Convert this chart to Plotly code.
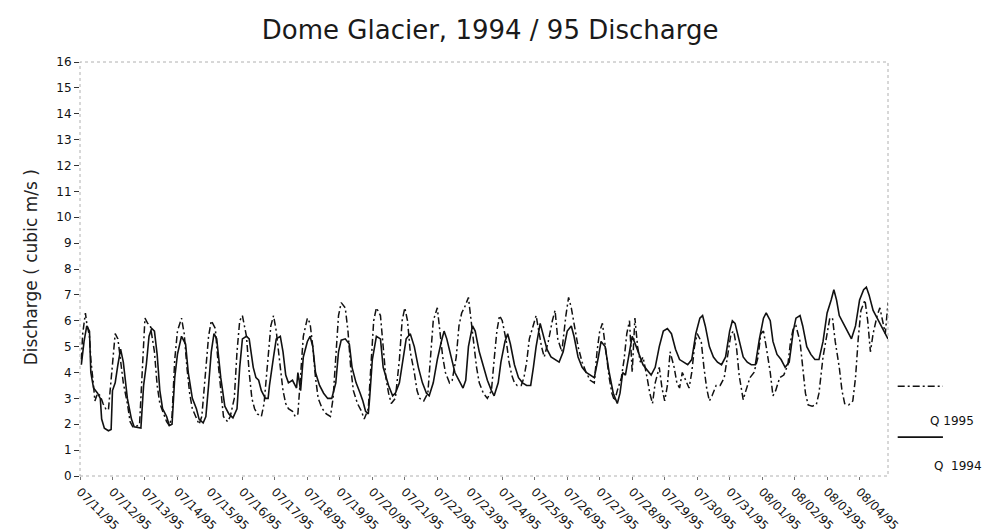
import pandas as pd
import plotly.graph_objects as go

START = pd.Timestamp("1995-07-11 00:00")

# ---- Q 1994 (solid) : hours since 07/11 00:00 and discharge (m3/s)
hours_1994 = [
    1, 3, 5, 7, 8, 10, 13, 15, 16, 18,
    21, 23, 24, 26, 28, 30, 32, 35, 38, 40,
    45, 47, 49, 51, 53, 55, 57, 59, 61, 64,
    66, 68, 70, 72, 75, 78, 80, 83, 86, 88,
    91, 93, 95, 97, 99, 101, 104, 107, 110, 113,
    116, 118, 120, 123, 125, 128, 130, 132, 134, 137,
    139, 140, 143, 145, 148, 150, 152, 154, 157, 160,
    161, 163, 165, 168, 170, 172, 174, 177, 180, 183,
    186, 189, 191, 193, 196, 199, 201, 204, 207, 209,
    211, 213, 214, 216, 219, 222, 224, 228, 231, 233,
    236, 239, 241, 244, 247, 250, 253, 256, 258, 261,
    264, 267, 269, 271, 274, 277, 280, 283, 285, 287,
    290, 292, 295, 298, 301, 304, 306, 309, 311, 314,
    316, 318, 321, 324, 327, 330, 333, 335, 337, 340,
    342, 345, 348, 351, 354, 357, 360, 363, 365, 368,
    371, 374, 377, 380, 383, 385, 388, 391, 394, 397,
    399, 401, 403, 405, 408, 411, 414, 416, 419, 422,
    425, 428, 431, 434, 437, 440, 443, 446, 449, 452,
    455, 458, 460, 462, 465, 468, 471, 474, 477, 480,
    482, 484, 487, 490, 493, 496, 499, 502, 505, 507,
    510, 512, 515, 518, 521, 524, 527, 529, 532, 534,
    537, 540, 543, 546, 549, 552, 555, 557, 559, 561,
    564, 567, 570, 573, 576, 579, 581, 583, 586, 589,
    592, 595, 597,
]
q_1994 = [
    4.3, 5.2, 5.8, 5.6, 4.0, 3.4, 3.2, 3.0, 2.2, 1.85,
    1.75, 1.8, 3.3, 3.6, 4.3, 4.9, 4.4, 3.0, 2.2, 1.9,
    1.85, 3.5, 4.3, 5.4, 5.7, 5.6, 4.7, 3.3, 2.6, 2.3,
    1.95, 2.0, 3.8, 4.7, 5.4, 5.1, 4.0, 3.0, 2.6, 2.2,
    2.05, 2.3, 3.5, 4.8, 5.5, 5.3, 3.8, 2.7, 2.4, 2.25,
    2.6, 4.2, 5.3, 5.4, 5.3, 4.2, 3.8, 3.7, 3.3, 3.0,
    3.0, 3.5, 4.6, 5.3, 5.4, 4.8, 3.9, 3.6, 3.7, 3.4,
    4.0, 3.3, 4.6, 5.2, 5.4, 5.0, 4.0, 3.5, 3.2, 3.0,
    3.0, 3.6, 4.8, 5.25, 5.3, 5.1, 4.2, 3.6, 3.2, 2.9,
    2.5, 2.4, 3.0, 4.5, 5.4, 5.3, 4.2, 3.5, 3.1, 3.2,
    3.6, 4.6, 5.3, 5.5, 5.0, 4.2, 3.6, 3.2, 3.1, 3.6,
    4.5, 5.2, 5.6, 5.3, 4.6, 4.0, 3.7, 3.4, 3.7, 5.0,
    5.8, 5.6, 4.8, 4.2, 3.7, 3.3, 3.1, 3.6, 4.4, 5.2,
    5.5, 5.1, 4.3, 3.8, 3.6, 3.5, 3.5, 4.2, 5.0, 5.9,
    5.5, 4.9, 4.6, 4.5, 4.4, 4.8, 5.6, 5.8, 5.4, 4.6,
    4.2, 4.0, 3.9, 3.8, 4.6, 5.2, 5.0, 4.0, 3.2, 2.8,
    3.2, 4.0, 3.9, 4.5, 5.4, 5.0, 4.6, 4.3, 4.1, 3.9,
    4.2, 5.0, 5.6, 5.7, 5.5, 4.9, 4.5, 4.4, 4.3, 4.5,
    5.5, 6.1, 6.2, 5.8, 5.0, 4.6, 4.4, 4.3, 4.6, 5.6,
    6.0, 5.9, 5.2, 4.6, 4.4, 4.3, 4.3, 5.3, 6.1, 6.3,
    6.0, 5.2, 4.7, 4.5, 4.2, 4.4, 5.6, 6.1, 6.2, 5.8,
    5.0, 4.7, 4.5, 4.5, 5.2, 6.3, 6.8, 7.2, 6.8, 6.2,
    5.9, 5.6, 5.3, 5.8, 6.8, 7.2, 7.3, 7.0, 6.4, 6.1,
    5.8, 5.5, 5.3,
]

# ---- Q 1995 (dash-dot)
hours_1995 = [
    1, 2, 4, 5, 7, 8, 10, 11, 13, 15,
    17, 19, 21, 24, 26, 28, 30, 32, 35, 37,
    39, 41, 44, 46, 48, 50, 52, 55, 57, 59,
    61, 64, 66, 68, 70, 72, 75, 77, 79, 81,
    83, 86, 88, 90, 93, 95, 97, 100, 102, 104,
    106, 109, 111, 114, 116, 118, 120, 123, 125, 127,
    129, 131, 134, 136, 139, 141, 143, 145, 148, 150,
    152, 154, 157, 159, 161, 163, 165, 168, 170, 172,
    174, 176, 179, 182, 185, 187, 189, 191, 193, 196,
    198, 200, 202, 205, 208, 210, 213, 215, 217, 219,
    222, 224, 226, 228, 230, 233, 236, 238, 240, 242,
    244, 247, 249, 251, 254, 257, 259, 261, 264, 266,
    268, 270, 273, 275, 278, 280, 282, 284, 287, 289,
    291, 293, 295, 298, 301, 304, 306, 308, 310, 312,
    315, 317, 319, 321, 323, 326, 328, 330, 332, 335,
    337, 339, 341, 343, 346, 349, 351, 353, 356, 359,
    361, 363, 366, 368, 371, 374, 377, 380, 382, 384,
    386, 388, 391, 393, 395, 397, 400, 402, 404, 406,
    408, 410, 412, 414, 416, 419, 421, 423, 425, 428,
    430, 432, 434, 436, 439, 441, 443, 445, 448, 450,
    452, 454, 456, 459, 461, 463, 465, 467, 470, 473,
    476, 479, 481, 483, 485, 487, 490, 492, 495, 498,
    501, 503, 505, 507, 510, 512, 514, 517, 520, 523,
    525, 527, 529, 532, 534, 536, 538, 541, 544, 546,
    549, 552, 554, 556, 558, 561, 563, 565, 568, 571,
    573, 575, 577, 580, 582, 584, 586, 589, 591, 593,
    595, 597,
]
q_1995 = [
    4.5, 5.5, 6.3, 5.9, 5.4, 4.5, 3.5, 2.9, 3.2, 3.1,
    2.8, 2.6, 2.55, 4.5, 5.5, 5.3, 4.5, 3.6, 2.8, 2.1,
    1.9, 1.9, 2.0, 4.0, 6.1, 5.9, 5.8, 4.8, 3.5, 2.8,
    2.5, 2.1, 1.95, 2.3, 4.5, 5.6, 6.1, 5.5, 4.2, 3.2,
    2.6, 2.2, 2.0, 2.3, 4.0, 5.4, 6.0, 5.7, 4.4, 3.3,
    2.3, 2.1, 2.3, 3.0, 4.8, 6.0, 6.2, 5.4, 4.0, 3.0,
    2.6, 2.4, 2.3, 2.8, 4.8, 5.8, 6.2, 5.6, 4.2, 3.3,
    2.8, 2.6, 2.5, 2.3, 2.4, 3.8, 5.4, 6.1, 5.9, 5.0,
    3.8, 3.0, 2.6, 2.4, 2.3, 3.0, 4.8, 6.2, 6.7, 6.5,
    5.6, 4.2, 3.3, 2.8, 2.5, 2.2, 2.6, 4.5, 6.0, 6.5,
    6.2, 5.0, 3.8, 3.2, 2.8, 3.0, 4.5, 6.0, 6.5, 6.0,
    4.8, 4.0, 3.3, 3.0, 2.9, 3.2, 4.5, 6.0, 6.5, 5.6,
    4.6, 4.0, 3.6, 3.7, 4.6, 5.8, 6.3, 6.5, 6.9, 6.0,
    5.0, 4.2, 3.6, 3.2, 3.0, 3.3, 4.5, 5.6, 6.2, 6.0,
    5.2, 4.4, 3.9, 3.6, 3.5, 3.5, 3.8, 4.4, 5.3, 5.9,
    6.2, 5.6, 5.0, 4.6, 5.2, 6.0, 6.4, 5.3, 4.8, 6.2,
    6.9, 6.5, 5.6, 5.0, 4.4, 4.0, 3.7, 3.6, 4.8, 5.6,
    5.9, 5.0, 3.8, 3.2, 2.9, 3.3, 3.8, 4.5, 5.5, 6.0,
    4.0, 6.1, 5.0, 4.4, 4.6, 3.8, 3.2, 2.8, 3.6, 4.2,
    3.4, 2.9, 3.5, 4.8, 4.2, 3.6, 3.4, 4.0, 3.6, 3.4,
    4.0, 5.0, 5.5, 5.2, 4.2, 3.4, 2.9, 3.1, 3.5, 3.5,
    3.8, 4.8, 5.5, 5.6, 5.0, 3.9, 2.95, 3.3, 3.8, 4.0,
    4.6, 5.5, 5.6, 5.0, 4.0, 3.1, 3.3, 3.8, 3.9, 4.3,
    5.2, 5.7, 5.8, 5.2, 4.2, 3.2, 2.75, 2.7, 2.75, 3.2,
    4.6, 5.6, 6.1, 6.1, 5.2, 4.2, 3.3, 2.8, 2.75, 2.9,
    3.8, 5.3, 6.4, 6.8, 6.0, 4.8, 5.5, 6.2, 6.5, 6.0,
    5.5, 6.7,
]

y_ticks = list(range(0, 17))
tick_days = pd.date_range("1995-07-11", "1995-08-04", freq="D")
tick_labels = [d.strftime("%m/%d/%y") for d in tick_days]

t94 = [START + pd.Timedelta(hours=h) for h in hours_1994]
t95 = [START + pd.Timedelta(hours=h) for h in hours_1995]

FONT = "DejaVu Sans, Verdana, sans-serif"
INK = "#111111"
DASHDOT = "7px,3px,2px,3px"

fig = go.Figure()
fig.add_trace(go.Scatter(x=t94, y=q_1994, mode="lines", name="Q 1994",
                         line=dict(color=INK, width=1.6)))
fig.add_trace(go.Scatter(x=t95, y=q_1995, mode="lines", name="Q 1995",
                         line=dict(color=INK, width=1.5, dash=DASHDOT)))

fig.update_layout(
    width=990, height=532,
    margin=dict(l=72, r=110, t=54, b=64),
    paper_bgcolor="white", plot_bgcolor="white",
    showlegend=False,
    font=dict(family=FONT, color=INK),
    title=dict(text="Dome Glacier, 1994 / 95 Discharge", x=0.487, xanchor="center",
               y=1 - 22 / 532, yanchor="middle", yref="container",
               font=dict(family=FONT, size=26, color="#1a1a1a")),
)
fig.update_xaxes(
    type="date",
    range=[START, START + pd.Timedelta(hours=597)],
    tickvals=tick_days, ticktext=tick_labels, tickangle=45,
    tickfont=dict(family=FONT, size=12, color=INK),
    ticks="outside", ticklen=3, tickcolor="#777777",
    showgrid=False, zeroline=False, showline=False, automargin=False,
)
fig.update_yaxes(
    range=[0, 16], tickvals=y_ticks,
    tickfont=dict(family=FONT, size=12, color=INK),
    ticks="outside", ticklen=5, tickcolor="#333333",
    showgrid=False, zeroline=False, showline=False, automargin=False,
)

# dotted frame (as in the scanned original)
fig.add_shape(type="rect", xref="paper", yref="paper", x0=0, y0=0, x1=1, y1=1,
              line=dict(color="#b0b0b0", width=1, dash="dot"))

# y-axis title
fig.add_annotation(text="Discharge ( cubic m/s )", xref="paper", yref="paper",
                   x=-0.0755, y=0.504, textangle=-90, showarrow=False,
                   font=dict(family=FONT, size=17, color="#222222"))

# custom legend: line sample above its label
fig.add_shape(type="line", xref="paper", yref="paper", x0=1.012, x1=1.068, y0=0.217, y1=0.217,
              line=dict(color=INK, width=1.5, dash=DASHDOT))
fig.add_annotation(text="Q 1995", xref="paper", yref="paper", x=1.0495, y=0.133,
                   xanchor="left", yanchor="middle", showarrow=False,
                   font=dict(family=FONT, size=12, color=INK))
fig.add_shape(type="line", xref="paper", yref="paper", x0=1.012, x1=1.068, y0=0.094, y1=0.094,
              line=dict(color=INK, width=1.6))
fig.add_annotation(text="Q  1994", xref="paper", yref="paper", x=1.054, y=0.025,
                   xanchor="left", yanchor="middle", showarrow=False,
                   font=dict(family=FONT, size=12, color=INK))

fig.write_html("out.html")
